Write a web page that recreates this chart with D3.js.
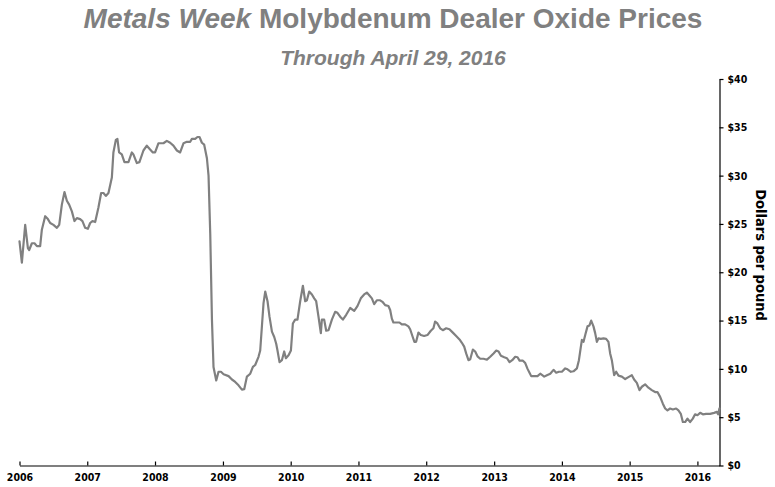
<!DOCTYPE html>
<html><head><meta charset="utf-8">
<script src="https://cdn.jsdelivr.net/npm/d3@7"></script>
<style>body{margin:0;background:#fff}svg{display:block}</style>
</head><body><svg id="c" width="775" height="487"></svg>
<script>
// ---- data ----
const decimalYears = [
2006.000,2006.035,2006.084,2006.124,2006.143,2006.183,2006.221,2006.257,2006.305,2006.330,
2006.379,2006.419,2006.453,2006.501,2006.552,2006.586,2006.625,2006.664,2006.699,2006.733,
2006.773,2006.811,2006.847,2006.895,2006.929,2006.969,2007.009,2007.043,2007.077,2007.117,
2007.165,2007.205,2007.239,2007.274,2007.313,2007.363,2007.386,2007.422,2007.445,2007.470,
2007.510,2007.549,2007.608,2007.658,2007.681,2007.732,2007.770,2007.829,2007.879,2007.928,
2007.968,2008.001,2008.050,2008.124,2008.174,2008.223,2008.271,2008.322,2008.370,2008.419,
2008.469,2008.518,2008.543,2008.591,2008.625,2008.655,2008.690,2008.724,2008.764,2008.788,
2008.813,2008.838,2008.861,2008.901,2008.935,2008.971,2009.009,2009.083,2009.133,2009.181,
2009.230,2009.280,2009.314,2009.354,2009.403,2009.442,2009.476,2009.525,2009.550,2009.575,
2009.599,2009.624,2009.658,2009.687,2009.723,2009.757,2009.786,2009.805,2009.835,2009.870,
2009.904,2009.929,2009.968,2010.003,2010.032,2010.066,2010.100,2010.140,2010.180,2010.214,
2010.239,2010.273,2010.313,2010.347,2010.376,2010.410,2010.445,2010.460,2010.494,2010.524,
2010.558,2010.608,2010.656,2010.690,2010.730,2010.770,2010.819,2010.878,2010.937,2010.985,
2011.035,2011.084,2011.124,2011.162,2011.198,2011.232,2011.271,2011.320,2011.360,2011.394,
2011.442,2011.468,2011.493,2011.516,2011.566,2011.605,2011.640,2011.689,2011.737,2011.763,
2011.796,2011.826,2011.851,2011.885,2011.920,2011.969,2012.018,2012.068,2012.106,2012.131,
2012.165,2012.205,2012.245,2012.294,2012.342,2012.392,2012.441,2012.490,2012.525,2012.559,
2012.588,2012.622,2012.648,2012.687,2012.721,2012.755,2012.795,2012.844,2012.894,2012.942,
2012.991,2013.031,2013.065,2013.100,2013.149,2013.189,2013.227,2013.267,2013.311,2013.345,
2013.375,2013.425,2013.459,2013.493,2013.522,2013.547,2013.592,2013.640,2013.680,2013.710,
2013.739,2013.779,2013.828,2013.876,2013.916,2013.956,2014.000,2014.049,2014.083,2014.133,
2014.171,2014.221,2014.251,2014.280,2014.295,2014.319,2014.348,2014.378,2014.407,2014.432,
2014.466,2014.491,2014.516,2014.540,2014.575,2014.614,2014.653,2014.687,2014.712,2014.737,
2014.761,2014.771,2014.801,2014.835,2014.885,2014.934,2014.982,2015.032,2015.066,2015.106,
2015.145,2015.180,2015.228,2015.277,2015.327,2015.376,2015.410,2015.450,2015.490,2015.524,
2015.558,2015.597,2015.637,2015.686,2015.720,2015.755,2015.785,2015.819,2015.853,2015.892,
2015.932,2015.966,2016.000,2016.040,2016.080,2016.128,2016.187,2016.246,2016.286,2016.305,
2016.324];
const prices = [
23.2,21.0,24.9,22.5,22.3,23.0,23.0,22.7,22.7,24.4,
25.8,25.5,25.1,24.9,24.6,24.9,27.0,28.3,27.4,27.0,
26.3,25.3,25.6,25.5,25.3,24.6,24.5,25.1,25.3,25.2,
26.7,28.2,28.2,27.9,28.2,29.8,32.4,33.7,33.8,32.4,
32.2,31.4,31.4,32.4,32.2,31.3,31.4,32.6,33.1,32.7,
32.4,32.4,33.35,33.35,33.6,33.4,33.1,32.6,32.4,33.35,
33.5,33.5,33.8,33.8,34.0,34.0,33.4,33.2,31.8,30.0,
24.0,15.1,10.2,8.8,9.7,9.7,9.45,9.25,8.9,8.65,
8.3,7.85,7.9,9.2,9.5,10.2,10.4,11.25,11.9,14.4,
16.8,18.0,17.0,15.4,13.85,13.3,12.6,11.9,10.7,10.9,
11.8,11.1,11.4,11.9,14.7,15.1,15.1,17.0,18.6,17.0,
17.1,18.0,17.7,17.3,17.0,15.4,13.7,15.1,15.1,13.95,
14.0,15.1,15.9,15.8,15.4,15.1,15.6,16.3,16.0,16.5,
17.3,17.7,17.9,17.6,17.3,16.7,17.1,17.1,16.9,16.6,
16.5,16.1,15.2,14.8,14.8,14.8,14.6,14.6,14.4,14.1,
13.4,12.8,12.8,13.75,13.5,13.4,13.5,13.95,14.2,14.9,
14.7,14.2,14.0,14.2,14.1,13.75,13.4,13.05,12.7,12.3,
11.6,10.9,11.0,12.0,11.8,11.3,11.05,11.05,10.95,11.25,
11.6,11.9,11.8,11.35,11.2,11.1,10.7,10.9,11.25,11.2,
10.85,10.85,10.6,10.0,9.6,9.25,9.25,9.25,9.5,9.35,
9.2,9.35,9.5,9.9,9.6,9.7,9.7,10.05,9.95,9.7,
9.75,10.05,10.9,12.3,13.0,12.8,13.6,14.4,14.5,15.0,
14.4,13.7,12.8,13.15,13.1,13.15,13.1,12.8,11.6,10.9,
9.8,9.35,9.7,9.3,9.2,8.95,9.15,9.35,8.9,8.55,
7.8,8.15,8.4,8.05,7.8,7.6,7.6,7.1,6.4,5.9,
5.7,5.9,5.8,5.9,5.7,5.35,4.5,4.5,4.85,4.5,
4.85,5.3,5.2,5.45,5.3,5.35,5.35,5.45,5.55,5.3,
5.9];
const yearTicks = [2006,2007,2008,2009,2010,2011,2012,2013,2014,2015,2016];
const priceTicks = [0,5,10,15,20,25,30,35,40];
const startDate = [2006,0,1], endDate = [2016,3,29];
const titleItalic = "Metals Week", titleRest = " Molybdenum Dealer Oxide Prices";
const subtitle = "Through April 29, 2016";
const yLabel = "Dollars per pound";

// ---- helpers ----
function toDate(t){
  const yr = Math.floor(t), a = new Date(yr,0,1), b = new Date(yr+1,0,1);
  return new Date(a.getTime() + (t-yr)*(b-a));
}
const data = decimalYears.map((t,i)=>({date:toDate(t), v:prices[i]}));

const svg = d3.select("#c");
const gray = "#808080";
const tickFont = "'DejaVu Sans Condensed','DejaVu Sans',sans-serif";

const x = d3.scaleTime().domain([new Date(...startDate), new Date(...endDate)]).range([19.5, 719.5]);
const y = d3.scaleLinear().domain([0,40]).range([465.5, 79]);

// title
const t = svg.append("text").attr("x",393).attr("y",28).attr("text-anchor","middle")
  .attr("font-family","'Liberation Sans',Arial,sans-serif").attr("font-weight","bold")
  .attr("font-size",28).attr("fill",gray);
t.append("tspan").attr("font-style","italic").text(titleItalic);
t.append("tspan").text(titleRest);
svg.append("text").attr("x",393).attr("y",65).attr("text-anchor","middle")
  .attr("font-family","'Liberation Sans',Arial,sans-serif").attr("font-weight","bold")
  .attr("font-style","italic").attr("font-size",21).attr("fill",gray).text(subtitle);

// axes
const xAxis = svg.append("g").attr("transform","translate(0,465.5)")
  .call(d3.axisBottom(x).tickValues(yearTicks.map(yy=>new Date(yy,0,1)))
    .tickFormat(d3.timeFormat("%Y")).tickSizeInner(-4).tickSizeOuter(0).tickPadding(8.5));
const yAxis = svg.append("g").attr("transform","translate(719.5,0)")
  .call(d3.axisRight(y).tickValues(priceTicks).tickFormat(d=>"$"+d)
    .tickSizeInner(4).tickSizeOuter(0).tickPadding(4));
[xAxis,yAxis].forEach(g=>{
  g.selectAll("path,line").attr("stroke","#000").attr("stroke-width",1.2);
  g.selectAll("text").attr("font-family",tickFont).attr("font-stretch","condensed")
    .attr("font-weight","bold").attr("font-size",10.5).attr("fill","#000");
});

svg.append("text")
  .attr("transform","translate(756,255) rotate(90)")
  .attr("text-anchor","middle")
  .attr("font-family",tickFont).attr("font-stretch","condensed")
  .attr("font-weight","bold").attr("font-size",14.5).attr("fill","#000").text(yLabel);

// line
svg.append("path").datum(data)
  .attr("fill","none").attr("stroke",gray).attr("stroke-width",2.2)
  .attr("stroke-linejoin","round").attr("stroke-linecap","round")
  .attr("d", d3.line().x(d=>x(d.date)).y(d=>y(d.v)));
</script></body></html>
